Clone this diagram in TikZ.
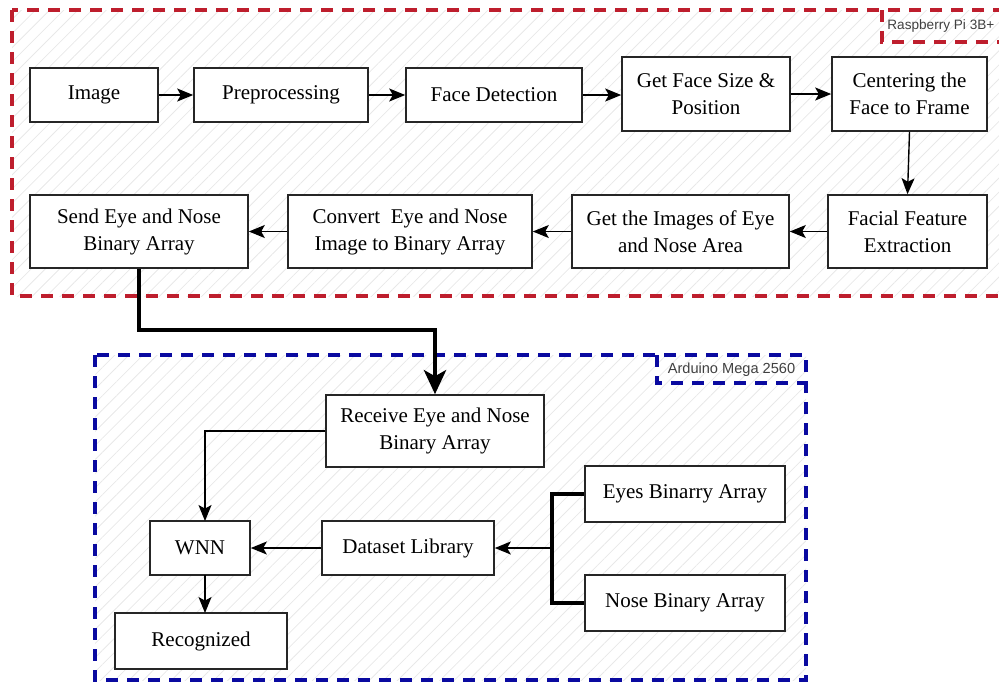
\documentclass[tikz,border=0pt]{standalone}
\usepackage{fontspec}
\setmainfont{Liberation Serif}
\setsansfont{Liberation Sans}
\usetikzlibrary{arrows.meta,patterns.meta}
\definecolor{rpired}{RGB}{190,30,45}
\definecolor{ardblue}{RGB}{10,10,160}
\begin{document}
\begin{tikzpicture}[x=0.5pt,y=-0.5pt,
  box/.style={draw=black!85,line width=0.8pt,fill=white,align=center,inner sep=0pt,
    font=\fontsize{10.5}{13.5}\selectfont},
  arr/.style={draw=black,line width=0.7pt,-{Stealth[length=8pt,width=6.5pt,inset=1.8pt]}},
  bigarr/.style={draw=black,line width=2.4pt,-{Stealth[length=12pt,width=11pt,inset=3pt]}},
  brace/.style={draw=black,line width=1.6pt},
  reddash/.style={draw=rpired,line width=1.6pt,dash pattern=on 6pt off 4.5pt},
  bluedash/.style={draw=ardblue,line width=1.6pt,dash pattern=on 6pt off 4.5pt},
  hatch/.style={pattern={Lines[angle=45,distance=5pt,line width=0.4pt]},pattern color=black!9},
  lbl/.style={font=\sffamily\fontsize{7.3}{9}\selectfont,text=black!75,inner sep=0pt}
]
\useasboundingbox (0,0) rectangle (999,682);
% containers
\fill[hatch] (12,10) rectangle (1010,296);
\fill[hatch] (95,355) rectangle (806,680);
\draw[reddash] (12,10) rectangle (1010,296);
\draw[reddash] (882,10) -- (882,42) -- (1010,42);
\node[lbl,anchor=west,font=\sffamily\fontsize{6.8}{9}\selectfont] (rpilbl) at (887,26) {Raspberry Pi 3B+};
\draw[bluedash] (95,355) rectangle (806,680);
\draw[bluedash] (657,355) -- (657,383) -- (806,383);
\node[lbl] (ardlbl) at (731.5,370) {Arduino Mega 2560};
% row 1
\node[box,minimum width=64pt,minimum height=27pt] (img) at (94,95) {Image};
\node[box,minimum width=87pt,minimum height=27pt] (pre) at (281,95) {Preprocessing};
\node[box,minimum width=88pt,minimum height=27pt] (fd) at (494,95) {Face Detection};
\node[box,minimum width=84pt,minimum height=37pt] (gfs) at (706,94) {Get Face Size \&\\Position};
\node[box,minimum width=77.5pt,minimum height=37pt] (cen) at (909.5,94) {Centering the\\Face to Frame};
% row 2
\node[box,minimum width=109pt,minimum height=36.5pt] (send) at (139,231.5) {Send Eye and Nose\\Binary Array};
\node[box,minimum width=122pt,minimum height=36.5pt] (conv) at (410,231.5) {Convert\ \ Eye and Nose\\Image to Binary Array};
\node[box,minimum width=108.5pt,minimum height=36.5pt] (gim) at (680.5,231.5) {Get the Images of Eye\\and Nose Area};
\node[box,minimum width=79.5pt,minimum height=36.5pt] (ffe) at (907.5,231.5) {Facial Feature\\Extraction};
% arduino
\node[box,minimum width=109pt,minimum height=36pt] (rcv) at (435,431) {Receive Eye and Nose\\Binary Array};
\node[box,minimum width=50pt,minimum height=27pt] (wnn) at (200,548) {WNN};
\node[box,minimum width=86pt,minimum height=27pt] (ds) at (408,548) {Dataset Library};
\node[box,minimum width=100pt,minimum height=28pt] (eyes) at (685,494) {Eyes Binarry Array};
\node[box,minimum width=100pt,minimum height=28pt] (nose) at (685,603) {Nose Binary Array};
\node[box,minimum width=86pt,minimum height=28pt] (rec) at (201,641) {Recognized};
\coordinate (jn) at (552,548);
% arrows
\draw[arr] (img) -- (pre);
\draw[arr] (pre) -- (fd);
\draw[arr] (fd) -- (gfs.west |- fd);
\draw[arr] (gfs) -- (cen);
\draw[arr] (cen.south) -- (ffe.north);
\draw[arr] (ffe) -- (gim);
\draw[arr] (gim) -- (conv);
\draw[arr] (conv) -- (send);
\draw[bigarr] (send.south) -- (139,330) -- (435,330) -- (rcv.north);
\draw[arr] (rcv.west) -- (205,431) -- (205,521);
\draw[arr] (ds) -- (wnn);
\draw[arr] (205,575) -- (205,613);
\draw[brace] (eyes.west) -- (eyes.west -| jn) -- (nose.west -| jn) -- (nose.west);
\draw[arr] (jn) -- (ds.east);
\end{tikzpicture}
\end{document}
